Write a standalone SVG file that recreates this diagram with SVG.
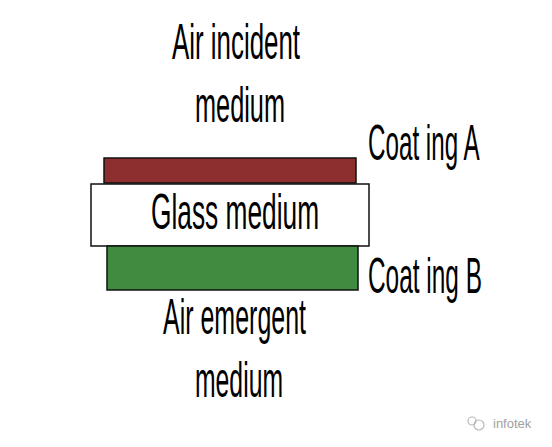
<svg xmlns="http://www.w3.org/2000/svg" width="552" height="447" viewBox="0 0 552 447">
<style>
.t{font-family:"Liberation Sans",Arial,sans-serif;font-size:50px;fill:#000}
.wm{font-family:"Liberation Sans",Arial,sans-serif;font-size:13px;fill:#a0a0a0}
</style>
<rect width="552" height="447" fill="#fff"/>
<g id="air-incident"><text class="t" transform="translate(172,59) scale(0.5176,1)">Air incident</text><text class="t" transform="translate(195,122) scale(0.506,1)">medium</text></g>
<g id="coating-a"><rect x="104" y="158" width="252" height="25" fill="#8e2f2f" stroke="#111" stroke-width="1.5"/><text class="t" transform="translate(368,160) scale(0.484,1)">Coat ing A</text></g>
<g id="glass"><rect x="91" y="184" width="278" height="62" fill="#fff" stroke="#111" stroke-width="1.5"/><text class="t" transform="translate(151,229) scale(0.526,1)">Glass medium</text></g>
<g id="coating-b"><rect x="107" y="246" width="251" height="44" fill="#3f8c40" stroke="#111" stroke-width="1.5"/><text class="t" transform="translate(368,293) scale(0.488,1)">Coat ing B</text></g>
<g id="air-emergent"><text class="t" transform="translate(163,334) scale(0.4997,1)">Air emergent</text><text class="t" transform="translate(195,397) scale(0.495,1)">medium</text></g>
<g id="connectors"></g>
<g id="watermark"><circle cx="472" cy="421" r="4" fill="none" stroke="#b8b8b8" stroke-width="1.2"/><circle cx="479" cy="425" r="5" fill="none" stroke="#b8b8b8" stroke-width="1.2"/><text class="wm" x="493" y="428">infotek</text></g>
</svg>
